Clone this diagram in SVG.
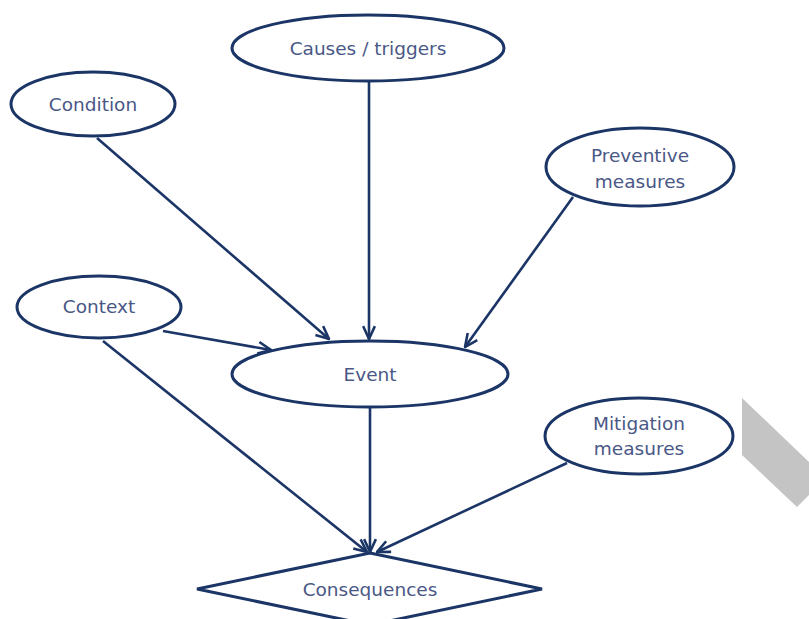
<svg xmlns="http://www.w3.org/2000/svg" width="809" height="619" viewBox="0 0 809 619">
<style>
.n{fill:#fff;stroke:#1b3566;stroke-width:3}
.t{font-family:"DejaVu Sans",Verdana,sans-serif;font-size:18.5px;fill:#4a5886;text-anchor:middle;dominant-baseline:central}
.c{stroke:#1b3566;stroke-width:2.6;fill:none;marker-end:url(#a)}
</style>
<defs>
<marker id="a" viewBox="0 0 14 14" refX="13" refY="7" markerWidth="15" markerHeight="15" markerUnits="userSpaceOnUse" orient="auto">
<path d="M1,1.5 L13,7 L1,12.5" fill="none" stroke="#1b3566" stroke-width="2.4"/>
</marker>
</defs>
<rect width="809" height="619" fill="#fff"/>
<polygon points="742,398 809,462 809,495 797,507 742,455" fill="#c4c4c4"/>
<g id="connectors">
<line class="c" x1="369" y1="81" x2="369" y2="339"/>
<line class="c" x1="97" y1="138" x2="329" y2="339"/>
<line class="c" x1="573" y1="197" x2="465" y2="347"/>
<line class="c" x1="163" y1="331" x2="271" y2="350"/>
<line class="c" x1="103" y1="341" x2="367" y2="552"/>
<line class="c" x1="370" y1="407" x2="370" y2="552"/>
<line class="c" x1="567" y1="463" x2="377" y2="552"/>
</g>
<g id="causes"><ellipse class="n" cx="368" cy="48" rx="136" ry="33"/><text class="t" x="368" y="48">Causes / triggers</text></g>
<g id="condition"><ellipse class="n" cx="93" cy="104" rx="82" ry="32"/><text class="t" x="93" y="104">Condition</text></g>
<g id="preventive"><ellipse class="n" cx="640" cy="167" rx="94" ry="39"/><text class="t" x="640" y="155">Preventive</text><text class="t" x="640" y="181">measures</text></g>
<g id="context"><ellipse class="n" cx="99" cy="307" rx="82" ry="31"/><text class="t" x="99" y="306">Context</text></g>
<g id="event"><ellipse class="n" cx="370" cy="374" rx="138" ry="33"/><text class="t" x="370" y="374">Event</text></g>
<g id="mitigation"><ellipse class="n" cx="639" cy="436" rx="94" ry="38"/><text class="t" x="639" y="423">Mitigation</text><text class="t" x="639" y="448">measures</text></g>
<g id="consequences"><polygon class="n" points="370,553 542,589 370,625 197,589"/><text class="t" x="370" y="589">Consequences</text></g>
</svg>
